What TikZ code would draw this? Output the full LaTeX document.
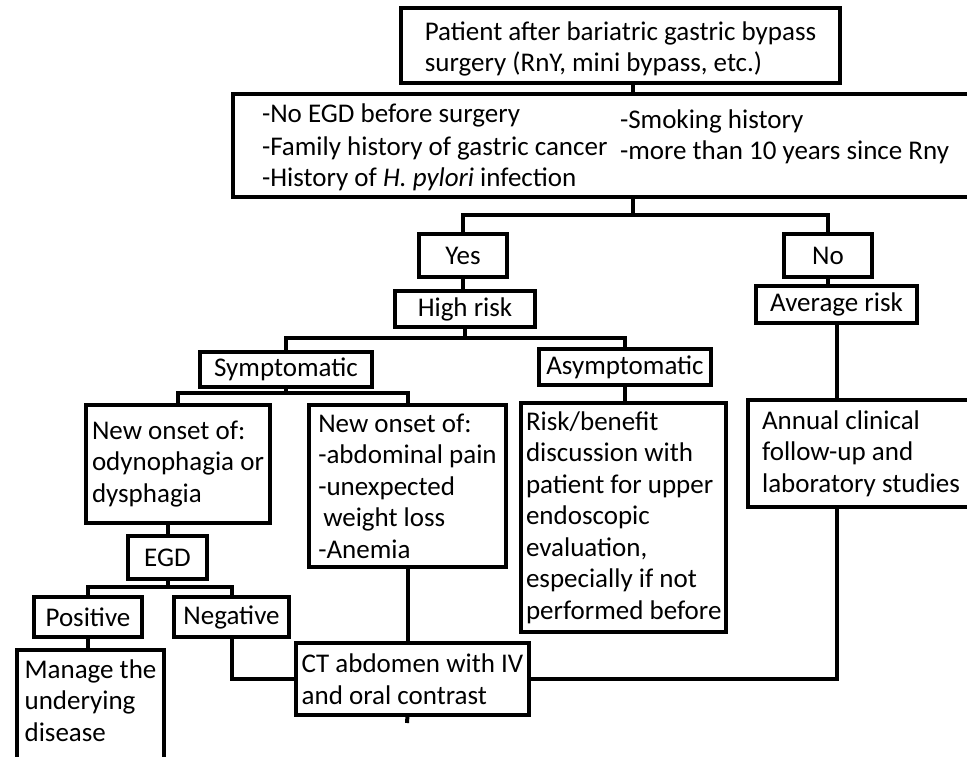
\documentclass[tikz,border=0pt]{standalone}
\usepackage{fontspec}
\setmainfont{Carlito}
\usepackage{tikz}
\usetikzlibrary{positioning}

\begin{document}
\begin{tikzpicture}[x=1pt, y=-1pt, every node/.style={font=\fontsize{27}{31.5}\selectfont}]
    \tikzstyle{box} = [rectangle, draw=black, line width=4pt, align=left,
        inner xsep=5pt, inner ysep=2pt, outer sep=0pt, anchor=north west]
    \tikzstyle{link} = [line width=4pt]
    \clip (0,0) rectangle (967,756);
    \fill [white] (0,0) rectangle (967,756);

    \node (patient) [box, minimum width=439pt, minimum height=75pt] at (401,8) {\rule{0pt}{26pt}Patient after bariatric gastric bypass \\ surgery (RnY, mini bypass, etc.)};
    \node (riskf) [box, inner ysep=0pt, minimum width=745pt, minimum height=103pt] at (233,94) {\begin{tabular}{@{}p{358pt}@{}l@{}}
        \rule{0pt}{28pt}-No EGD before surgery & \raisebox{-6pt}{-Smoking history} \\
        -Family history of gastric cancer & \raisebox{-4pt}{-more than 10 years since Rny} \\
        -History of \textit{H. pylori} infection & \\
    \end{tabular}};
    \node (yes) [box, minimum width=88pt, minimum height=43pt] at (419,234) {Yes};
    \node (no) [box, minimum width=88pt, minimum height=43pt] at (784,234) {No};
    \node (high) [box, minimum width=140pt, minimum height=36pt] at (395,291) {High risk};
    \node (avg) [box, minimum width=161pt, minimum height=37pt] at (756,286) {Average risk};
    \node (sympt) [box, minimum width=172pt, minimum height=35pt] at (200,352) {Symptomatic};
    \node (asympt) [box, minimum width=172pt, minimum height=36pt] at (539,349) {Asymptomatic};
    \node (odyn) [box, minimum width=184pt, minimum height=118pt] at (86,405) {New onset of:\\ odynophagia or\\ dysphagia};
    \node (abd) [box, minimum width=197pt, minimum height=162pt] at (309,405) {New onset of:\\ -abdominal pain\\ -unexpected\\ \hspace*{5pt}weight loss\\ -Anemia};
    \node (riskb) [box, minimum width=205pt, minimum height=229pt] at (521,403) {Risk/benefit\\ discussion with\\ patient for upper\\ endoscopic\\ evaluation,\\ especially if not\\ performed before};
    \node (annual) [box, minimum width=226pt, minimum height=107pt] at (748,400) {Annual clinical\\ follow-up and\\ laboratory studies};
    \node (egd) [box, minimum width=79pt, minimum height=43pt] at (128,536) {EGD};
    \node (pos) [box, minimum width=108pt, minimum height=40pt] at (34,597) {Positive};
    \node (neg) [box, minimum width=115pt, minimum height=40pt] at (174,597) {Negative};
    \node (manage) [box, minimum width=147pt, minimum height=132pt] at (17,650) {Manage the\\ underying\\ disease\\ \mbox{}};
    \node (ct) [box, minimum width=233pt, minimum height=72pt] at (296,643) {CT abdomen with IV\\ and oral contrast};

    \coordinate (trunk) at (633,215);
    \coordinate (hsplit) at (464,338);
    \coordinate (ssplit) at (290,393);
    \coordinate (esplit) at (167,587);
    \coordinate (ctend) at (407,723);

    \draw [link] (patient.south -| trunk) -- (riskf.north -| trunk);
    \draw [link] (riskf.south -| trunk) -- (trunk);
    \draw [link] (yes.north) |- (trunk) -| (no.north);
    \draw [link] (yes.south) -- (yes.south |- high.north);
    \draw [link] (no.south) -- (no.south |- avg.north);
    \draw [link] (high.south) -- (high.south |- hsplit);
    \draw [link] (sympt.north) |- (hsplit) -| (asympt.north);
    \draw [link] (sympt.south) -- (sympt.south |- ssplit);
    \draw [link] (odyn.north) |- (ssplit) -| (abd.north);
    \draw [link] (asympt.south) -- (asympt.south |- riskb.north);
    \draw [link] (avg.south) -- (avg.south |- annual.north);
    \draw [link] (odyn.south -| egd.north) -- (egd.north);
    \draw [link] (egd.south) -- (egd.south |- esplit);
    \draw [link] (pos.north) |- (esplit) -| (neg.north);
    \draw [link] (pos.south) -- (pos.south |- manage.north);
    \draw [link] (neg.south) |- (ct.west);
    \draw [link] (abd.south) -- (abd.south |- ct.north);
    \draw [link] (avg.south |- annual.south) |- (ct.east);
    \draw [link] (abd.south |- ct.south) -- (ctend);
\end{tikzpicture}
\end{document}
